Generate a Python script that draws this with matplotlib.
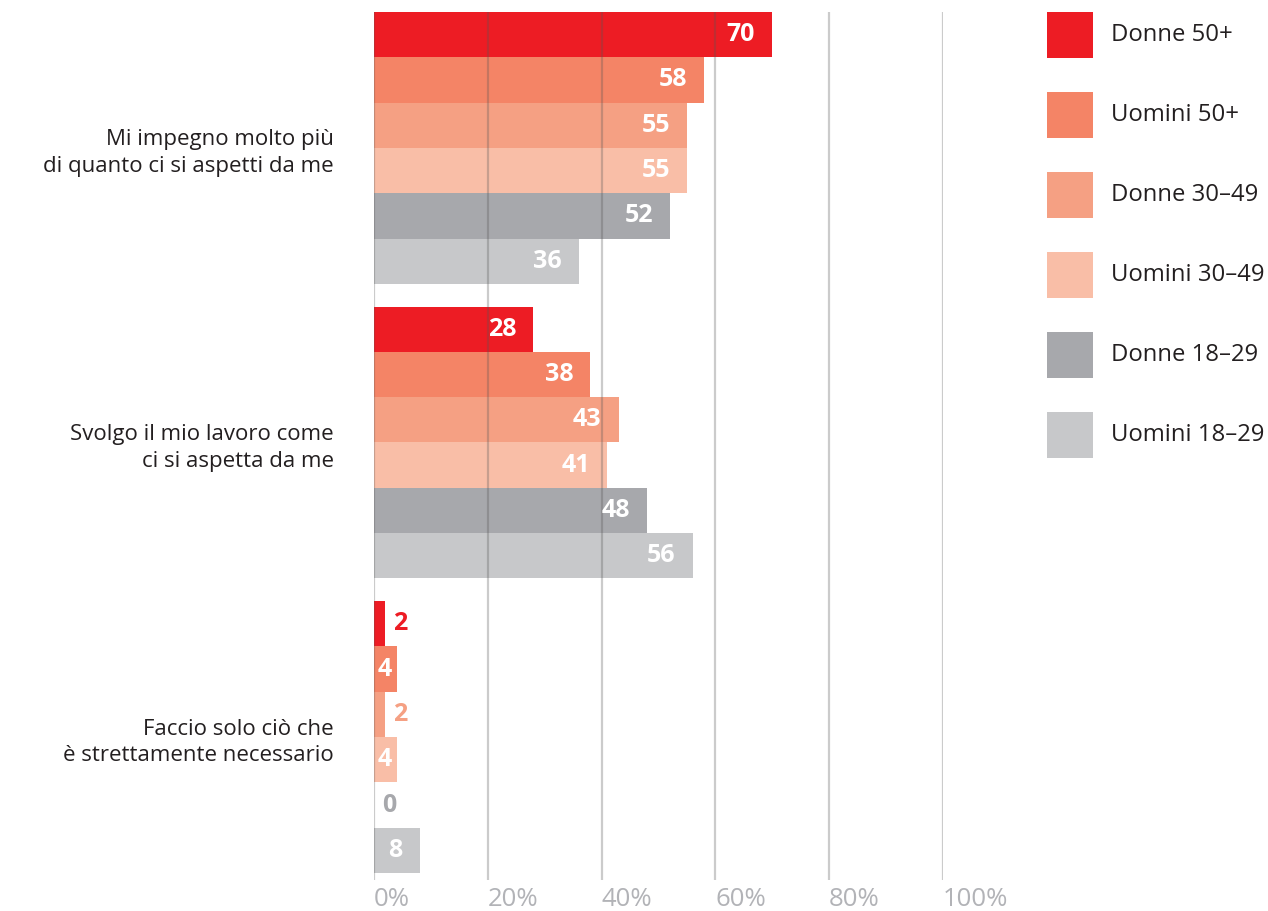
import matplotlib
matplotlib.use("Agg")
import matplotlib.pyplot as plt
from matplotlib.patches import Rectangle

categories = ["Mi impegno molto più\ndi quanto ci si aspetti da me",
              "Svolgo il mio lavoro come\nci si aspetta da me",
              "Faccio solo ciò che\nè strettamente necessario"]
series = ["Donne 50+", "Uomini 50+", "Donne 30–49", "Uomini 30–49", "Donne 18–29", "Uomini 18–29"]
values = [[70, 28, 2],
          [58, 38, 4],
          [55, 43, 2],
          [55, 41, 4],
          [52, 48, 0],
          [36, 56, 8]]
colors = ["#ed1c24", "#f48466", "#f5a083", "#f9bea7", "#a7a8ac", "#c7c8ca"]
ticks = [0, 20, 40, 60, 80, 100]
tick_labels = ["0%", "20%", "40%", "60%", "80%", "100%"]

plt.rcParams["font.family"] = ["Open Sans", "DejaVu Sans"]
TXT = "#231f20"
W, H = 1268, 911
fig = plt.figure(figsize=(W / 100, H / 100), dpi=100)
ax = fig.add_axes([374 / W, 1 - 880 / H, (943 - 374) / W, (880 - 12) / H])

GROUP = 6.5
for i, (name, vals, col) in enumerate(zip(series, values, colors)):
    ys = [g * GROUP + i for g in range(len(categories))]
    ax.barh(ys, vals, height=1.0, color=col, zorder=1)
    for y, v in zip(ys, vals):
        if v >= 3:
            ax.text(max(v - 3, 3.2), y, str(v), ha="right", va="center", color="white",
                    fontsize=18, fontweight="bold", zorder=3)
        else:
            ax.text(v + 1.4, y, str(v), ha="left", va="center", color=col,
                    fontsize=18, fontweight="bold", zorder=3)

for t in ticks:
    ax.axvline(t, color="#555555", alpha=0.3, lw=1.6, zorder=2)

ax.set_xlim(0, 100)
ax.set_ylim(2 * GROUP + 5 + 0.655, -0.5)
ax.set_xticks(ticks)
ax.set_xticklabels(tick_labels, color="#b2b3b7", fontsize=18.5, ha="left")
ax.tick_params(axis="x", length=0, pad=5)
ax.set_yticks([g * GROUP + 2.5 for g in range(len(categories))])
ax.set_yticklabels(categories, color=TXT, fontsize=16, linespacing=1.35)
ax.tick_params(axis="y", length=0, pad=29)
for s in ax.spines.values():
    s.set_visible(False)

# legend
for i, (name, col) in enumerate(zip(series, colors)):
    top = 12 + i * 80
    fig.add_artist(Rectangle((1047 / W, 1 - (top + 46) / H), 46 / W, 46 / H,
                             transform=fig.transFigure, color=col, lw=0))
    fig.text(1111 / W, 1 - (top + 23) / H, name, ha="left", va="center",
             color=TXT, fontsize=17.2)

fig.savefig("out.png", dpi=100)
